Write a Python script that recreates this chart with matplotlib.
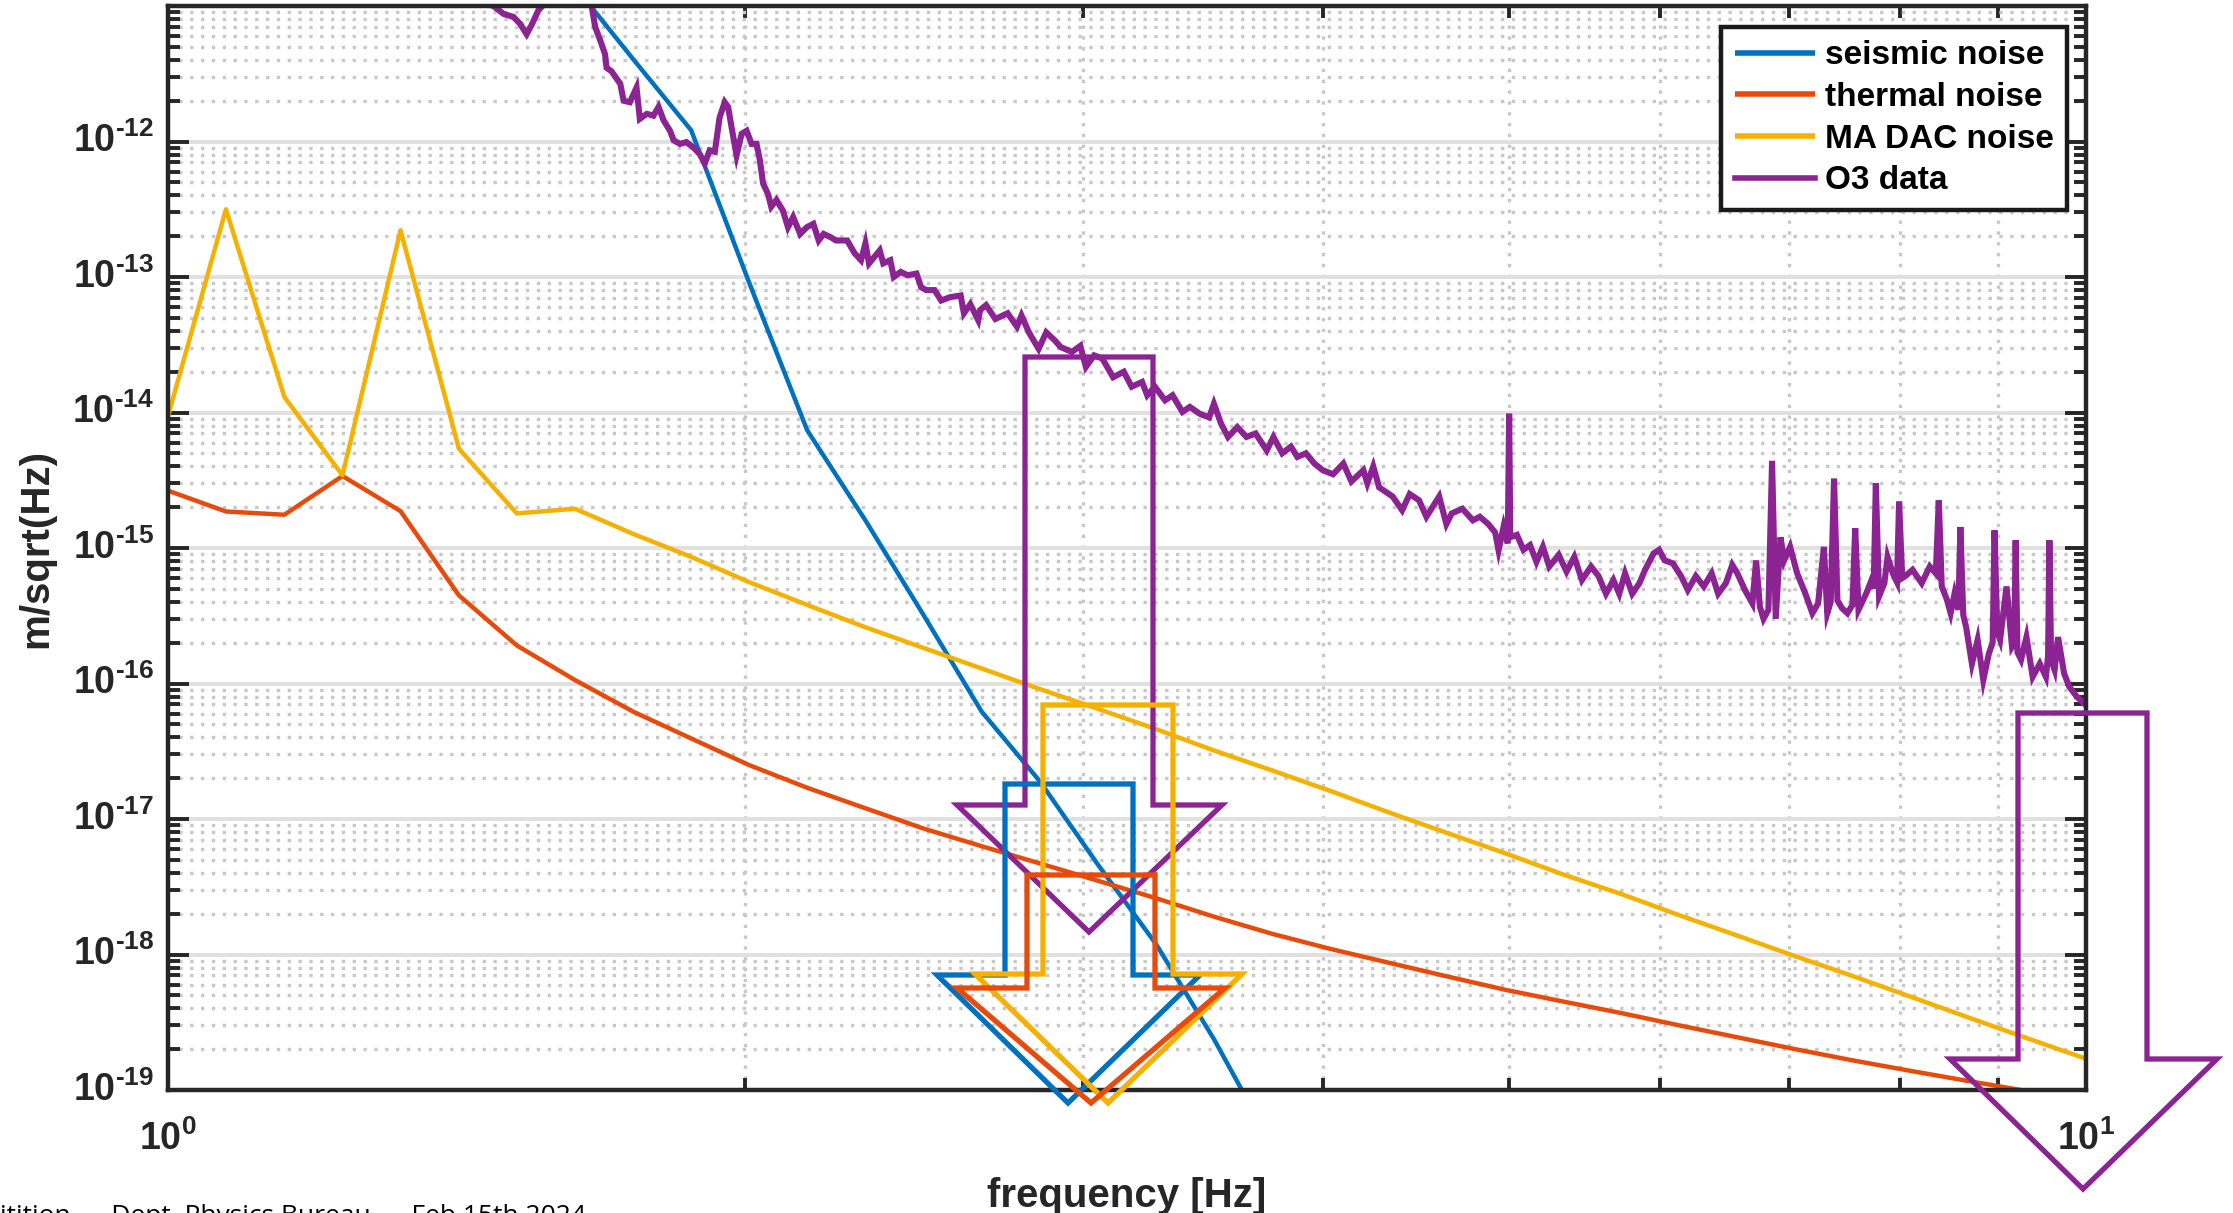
import matplotlib
matplotlib.use("Agg")
import matplotlib.pyplot as plt
from matplotlib.patches import Polygon
from matplotlib.ticker import LogLocator, NullFormatter

plt.rcParams['font.family'] = 'Liberation Sans'
plt.rcParams['font.weight'] = 'bold'
plt.rcParams['mathtext.fontset'] = 'custom'
plt.rcParams['mathtext.rm'] = 'Liberation Sans:bold'
plt.rcParams['mathtext.bf'] = 'Liberation Sans:bold'
plt.rcParams['mathtext.default'] = 'bf'

# model noise curves, sampled on a common frequency grid [Hz]
model_freq = [1.000, 1.072, 1.150, 1.233, 1.322, 1.418, 1.520, 1.630, 1.748, 1.874,
              2.009, 2.154, 2.310, 2.477, 2.656, 2.848, 3.054, 3.275, 3.511, 3.765,
              4.037, 4.329, 4.642, 4.977, 5.337, 5.722, 6.136, 6.579, 7.055, 7.565,
              8.111, 8.697, 9.326, 10.00]

thermal = [2.65e-15, 1.86e-15, 1.76e-15, 3.40e-15, 1.87e-15, 4.47e-16, 1.91e-16, 1.06e-16,
           6.2e-17, 3.93e-17, 2.5e-17, 1.7e-17, 1.2e-17, 8.5e-18, 6.3e-18, 4.7e-18,
           3.5e-18, 2.6e-18, 1.9e-18, 1.42e-18, 1.1e-18, 8.7e-19, 6.9e-19, 5.5e-19,
           4.5e-19, 3.7e-19, 3.0e-19, 2.45e-19, 2.0e-19, 1.65e-19, 1.38e-19, 1.16e-19,
           9.8e-20, 8.4e-20]

ma_dac = [9.4e-15, 3.16e-13, 1.3e-14, 3.44e-15, 2.21e-13, 5.4e-15, 1.8e-15, 1.95e-15,
          1.27e-15, 8.6e-16, 5.6e-16, 3.8e-16, 2.6e-16, 1.83e-16, 1.29e-16, 9.1e-17,
          6.5e-17, 4.6e-17, 3.2e-17, 2.28e-17, 1.61e-17, 1.12e-17, 7.9e-18, 5.6e-18,
          3.9e-18, 2.8e-18, 1.95e-18, 1.38e-18, 9.7e-19, 6.9e-19, 4.85e-19, 3.4e-19,
          2.4e-19, 1.7e-19]

seismic_freq = [1.520, 1.630, 1.748, 1.874, 2.009, 2.154, 2.310, 2.477, 2.656, 2.848,
                3.054, 3.275, 3.511, 3.765]
seismic = [5.0e-11, 1.39e-11, 4.05e-12, 1.21e-12, 9.1e-14, 7.4e-15, 1.6e-15, 3.2e-16,
           6.2e-17, 1.9e-17, 4.6e-18, 1.19e-18, 2.36e-19, 3.9e-20]

# measured O3 spectrum
o3_freq = [1.40, 1.46, 1.478, 1.496, 1.514, 1.526, 1.538, 1.547, 1.56, 1.582,
           1.61, 1.64, 1.663, 1.670, 1.680, 1.690, 1.693, 1.703, 1.711, 1.721,
           1.728, 1.741, 1.755, 1.762, 1.777, 1.791, 1.802, 1.813, 1.827, 1.835,
           1.849, 1.863, 1.878, 1.893, 1.905, 1.916, 1.928, 1.939, 1.951, 1.959,
           1.967, 1.979, 1.991, 2.003, 2.015, 2.027, 2.035, 2.043, 2.055, 2.063,
           2.076, 2.092, 2.105, 2.118, 2.136, 2.153, 2.170, 2.184, 2.197, 2.215,
           2.23, 2.26, 2.28, 2.298, 2.31, 2.32, 2.35, 2.36, 2.38, 2.39,
           2.41, 2.43, 2.456, 2.47, 2.485, 2.51, 2.53, 2.557, 2.59, 2.60,
           2.62, 2.645, 2.651, 2.67, 2.70, 2.74, 2.771, 2.786, 2.811, 2.844,
           2.87, 2.90, 2.92, 2.96, 2.99, 3.01, 3.04, 3.07, 3.11, 3.15,
           3.18, 3.22, 3.24, 3.27, 3.31, 3.34, 3.38, 3.41, 3.45, 3.49,
           3.51, 3.54, 3.57, 3.61, 3.65, 3.69, 3.74, 3.77, 3.81, 3.85,
           3.88, 3.92, 3.96, 4.00, 4.05, 4.10, 4.14, 4.20, 4.22, 4.25,
           4.28, 4.35, 4.40, 4.44, 4.49, 4.53, 4.60, 4.64, 4.67, 4.73,
           4.79, 4.83, 4.88, 4.92, 4.94, 4.97, 4.995, 5.003, 5.01, 5.05,
           5.09, 5.13, 5.17, 5.21, 5.25, 5.31, 5.36, 5.41, 5.46, 5.52,
           5.57, 5.62, 5.67, 5.71, 5.75, 5.80, 5.85, 5.89, 5.95, 5.99,
           6.03, 6.09, 6.15, 6.20, 6.26, 6.32, 6.38, 6.43, 6.49, 6.54,
           6.58, 6.64, 6.70, 6.73, 6.76, 6.79, 6.83, 6.86, 6.89, 6.93,
           6.96, 7.01, 7.07, 7.14, 7.20, 7.25, 7.30, 7.33, 7.36, 7.39,
           7.42, 7.46, 7.51, 7.555, 7.58, 7.61, 7.68, 7.73, 7.75, 7.77,
           7.80, 7.85, 7.88, 7.93, 7.97, 7.99, 8.02, 8.05, 8.12, 8.21,
           8.29, 8.35, 8.38, 8.41, 8.46, 8.50, 8.54, 8.58, 8.60, 8.63,
           8.66, 8.72, 8.78, 8.84, 8.90, 8.94, 8.96, 8.99, 9.02, 9.09,
           9.15, 9.175, 9.19, 9.21, 9.25, 9.31, 9.38, 9.46, 9.53, 9.555,
           9.57, 9.59, 9.63, 9.67, 9.74, 9.80, 9.89, 10.0]
o3_asd = [2.0e-11, 1.05e-11, 1.0e-11, 8.75e-12, 8.3e-12, 7.4e-12, 6.2e-12, 7.2e-12, 9.3e-12, 1.15e-11,
          1.8e-11, 2.0e-11, 1.0e-11, 7.0e-12, 5.6e-12, 4.4e-12, 3.5e-12, 3.3e-12, 3.0e-12, 2.67e-12,
          2.0e-12, 1.95e-12, 2.5e-12, 1.47e-12, 1.6e-12, 1.55e-12, 1.8e-12, 1.43e-12, 1.2e-12, 1.02e-12,
          9.6e-13, 9.9e-13, 9.1e-13, 8.1e-13, 6.9e-13, 8.6e-13, 8.4e-13, 1.5e-12, 1.95e-12, 1.8e-12,
          1.28e-12, 7.9e-13, 1.14e-12, 1.2e-12, 9.6e-13, 9.6e-13, 7.3e-13, 4.9e-13, 4.1e-13, 3.3e-13,
          3.7e-13, 3.1e-13, 2.33e-13, 2.77e-13, 2.08e-13, 2.33e-13, 2.47e-13, 1.86e-13, 2.08e-13, 1.97e-13,
          1.86e-13, 1.86e-13, 1.5e-13, 1.33e-13, 1.77e-13, 1.26e-13, 1.57e-13, 1.26e-13, 1.33e-13, 1.0e-13,
          1.09e-13, 1.03e-13, 1.06e-13, 8.4e-14, 8.0e-14, 8.0e-14, 6.7e-14, 7.1e-14, 7.3e-14, 5.4e-14,
          6.3e-14, 4.8e-14, 5.7e-14, 6.2e-14, 4.9e-14, 5.4e-14, 4.3e-14, 5.2e-14, 3.9e-14, 2.95e-14,
          3.9e-14, 3.4e-14, 3.04e-14, 2.8e-14, 3.1e-14, 2.17e-14, 2.64e-14, 2.5e-14, 1.82e-14, 2.0e-14,
          1.55e-14, 1.68e-14, 1.34e-14, 1.55e-14, 1.23e-14, 1.34e-14, 1.01e-14, 1.1e-14, 9.8e-15, 9.2e-15,
          1.16e-14, 8.3e-15, 6.6e-15, 7.8e-15, 6.6e-15, 7.0e-15, 5.25e-15, 6.6e-15, 5.0e-15, 5.6e-15,
          4.7e-15, 5.0e-15, 4.2e-15, 3.75e-15, 3.5e-15, 4.2e-15, 3.1e-15, 3.75e-15, 3.0e-15, 4.0e-15,
          2.8e-15, 2.4e-15, 1.9e-15, 2.5e-15, 2.25e-15, 1.7e-15, 2.4e-15, 1.5e-15, 1.8e-15, 1.95e-15,
          1.6e-15, 1.7e-15, 1.5e-15, 1.3e-15, 9.6e-16, 1.44e-15, 1.08e-15, 9.8e-15, 1.2e-15, 1.25e-15,
          9.7e-16, 1.05e-15, 7.9e-16, 1.02e-15, 7.3e-16, 8.9e-16, 6.7e-16, 8.6e-16, 5.8e-16, 7.3e-16,
          6.2e-16, 4.6e-16, 5.8e-16, 4.6e-16, 6.5e-16, 4.6e-16, 5.5e-16, 6.9e-16, 9.1e-16, 9.7e-16,
          8.1e-16, 7.7e-16, 6.2e-16, 4.9e-16, 6.2e-16, 5.2e-16, 6.5e-16, 4.6e-16, 5.5e-16, 7.5e-16,
          6.5e-16, 4.9e-16, 3.9e-16, 8.1e-16, 3.7e-16, 3.0e-16, 3.5e-16, 4.4e-15, 3.0e-16, 1.2e-15,
          8.1e-16, 1.02e-15, 6.5e-16, 4.6e-16, 3.3e-16, 3.9e-16, 1.02e-15, 3.3e-16, 4.0e-16, 3.26e-15,
          4.1e-16, 3.6e-16, 3.3e-16, 3.8e-16, 1.4e-15, 3.5e-16, 4.6e-16, 5.8e-16, 5.0e-16, 3.0e-15,
          4.4e-16, 5.5e-16, 8.6e-16, 6.5e-16, 5.6e-16, 2.2e-15, 6.0e-16, 6.2e-16, 6.9e-16, 5.5e-16,
          7.3e-16, 6.5e-16, 2.25e-15, 5.2e-16, 4.2e-16, 3.3e-16, 4.6e-16, 3.5e-16, 1.43e-15, 3.2e-16,
          2.6e-16, 1.4e-16, 2.1e-16, 1.06e-16, 1.67e-16, 2.0e-16, 1.35e-15, 2.4e-16, 2.1e-16, 5.2e-16,
          1.87e-16, 2.0e-16, 1.14e-15, 1.7e-16, 1.5e-16, 2.2e-16, 1.12e-16, 1.4e-16, 1.12e-16, 1.6e-16,
          1.14e-15, 1.5e-16, 1.26e-16, 2.2e-16, 1.19e-16, 9.5e-17, 8.0e-17, 6.9e-17]

series_labels = ['seismic noise', 'thermal noise', 'MA DAC noise', 'O3 data']
y_tick_exps = [-19, -18, -17, -16, -15, -14, -13, -12]
x_tick_exps = [0, 1]

c_blue = '#0071BF'
c_red = '#E64B0C'
c_yellow = '#F5B000'
c_purple = '#8B2392'
c_ink = '#262626'

W, H = 2233, 1213
fig = plt.figure(figsize=(W / 100, H / 100), dpi=100)
ax = fig.add_axes([168 / W, 1 - 1090 / H, 1918 / W, 1084 / H])

kw = dict(lw=3.2, solid_joinstyle='round', solid_capstyle='butt')
ax.loglog(seismic_freq, seismic, color=c_blue, label=series_labels[0], **kw)
ax.loglog(model_freq, thermal, color=c_red, label=series_labels[1], **kw)
ax.loglog(model_freq, ma_dac, color=c_yellow, label=series_labels[2], **kw)
ax.loglog(o3_freq, o3_asd, color=c_purple, label=series_labels[3], lw=4.4,
          solid_joinstyle='miter')

ax.set_xlim(1, 10)
ax.set_ylim(1e-19, 1e-11)

ax.set_xticks([10.0 ** e for e in x_tick_exps])
ax.set_xticklabels([r'$10^{%d}$' % e for e in x_tick_exps])
ax.set_yticks([10.0 ** e for e in y_tick_exps])
ax.set_yticklabels([r'$10^{\text{%d}}$' % e for e in y_tick_exps], va='center')
ax.xaxis.set_minor_locator(LogLocator(base=10, subs=range(2, 10), numticks=20))
ax.yaxis.set_minor_locator(LogLocator(base=10, subs=range(2, 10), numticks=40))
ax.xaxis.set_minor_formatter(NullFormatter())
ax.yaxis.set_minor_formatter(NullFormatter())

ax.tick_params(which='both', direction='in', top=True, right=True,
               width=2.8, color=c_ink, labelcolor=c_ink, labelsize=27)
ax.tick_params(which='major', length=15)
ax.tick_params(which='minor', length=8.5)
ax.tick_params(axis='x', pad=22)
ax.tick_params(axis='y', pad=10)

ax.grid(which='major', axis='y', color='#E0E0E0', lw=2.8, ls='-')
ax.grid(which='minor', axis='both', color='#C8C8C8', lw=2.4, ls=(0, (1, 2.25)))
ax.set_axisbelow(True)
for s in ax.spines.values():
    s.set_linewidth(3.2)
    s.set_color(c_ink)

leg = ax.legend(loc='upper right', bbox_to_anchor=(2067 / W, 1 - 27 / H),
                bbox_transform=fig.transFigure, borderaxespad=0,
                prop={'weight': 'bold', 'size': 24}, handlelength=2.4,
                handletextpad=0.3, labelspacing=0.32, borderpad=0.4,
                fancybox=False, framealpha=1)
leg.get_frame().set_edgecolor('#1A1A1A')
leg.get_frame().set_linewidth(3.2)
for line in leg.get_lines():
    line.set_linewidth(4)

fig.text(36 / W, 1 - 548 / H, 'm/sqrt(Hz)', rotation=90, ha='center', va='center',
         fontsize=29, fontweight='bold', color=c_ink)
fig.text(1127 / W, 1 - 1207 / H, 'frequency [Hz]', ha='center', va='baseline',
         fontsize=29, fontweight='bold', color=c_ink)
fig.text(0, 1 - 1204 / H, 'itition  \u2013  Dept. Physics Bureau  \u2013  Feb 15th 2024',
         ha='left', va='top', fontsize=19, fontweight='normal', family='Open Sans',
         color='black')


# hollow block arrows drawn over the plot, in figure pixels (origin top-left)
def block_arrow(xl, xr, yt, ys, hl, hr, xt, ytip, color):
    pts = [(xl, yt), (xr, yt), (xr, ys), (hr, ys), (xt, ytip), (hl, ys), (xl, ys)]
    pts = [(x / W, 1 - y / H) for x, y in pts]
    fig.add_artist(Polygon(pts, closed=True, fill=False, edgecolor=color, lw=3.8,
                           joinstyle='miter', transform=fig.transFigure, zorder=10))


block_arrow(1025, 1153, 357, 805, 957, 1222, 1089, 932, c_purple)
block_arrow(1005, 1133, 784, 975, 937, 1200, 1068, 1103, c_blue)
block_arrow(1043, 1173, 705, 974, 975, 1242, 1108, 1103, c_yellow)
block_arrow(1027, 1155, 875, 988, 957, 1225, 1091, 1103, c_red)
block_arrow(2018, 2147, 713, 1059, 1950, 2217, 2083, 1189, c_purple)

fig.savefig('out.png', dpi=100, facecolor='white')
